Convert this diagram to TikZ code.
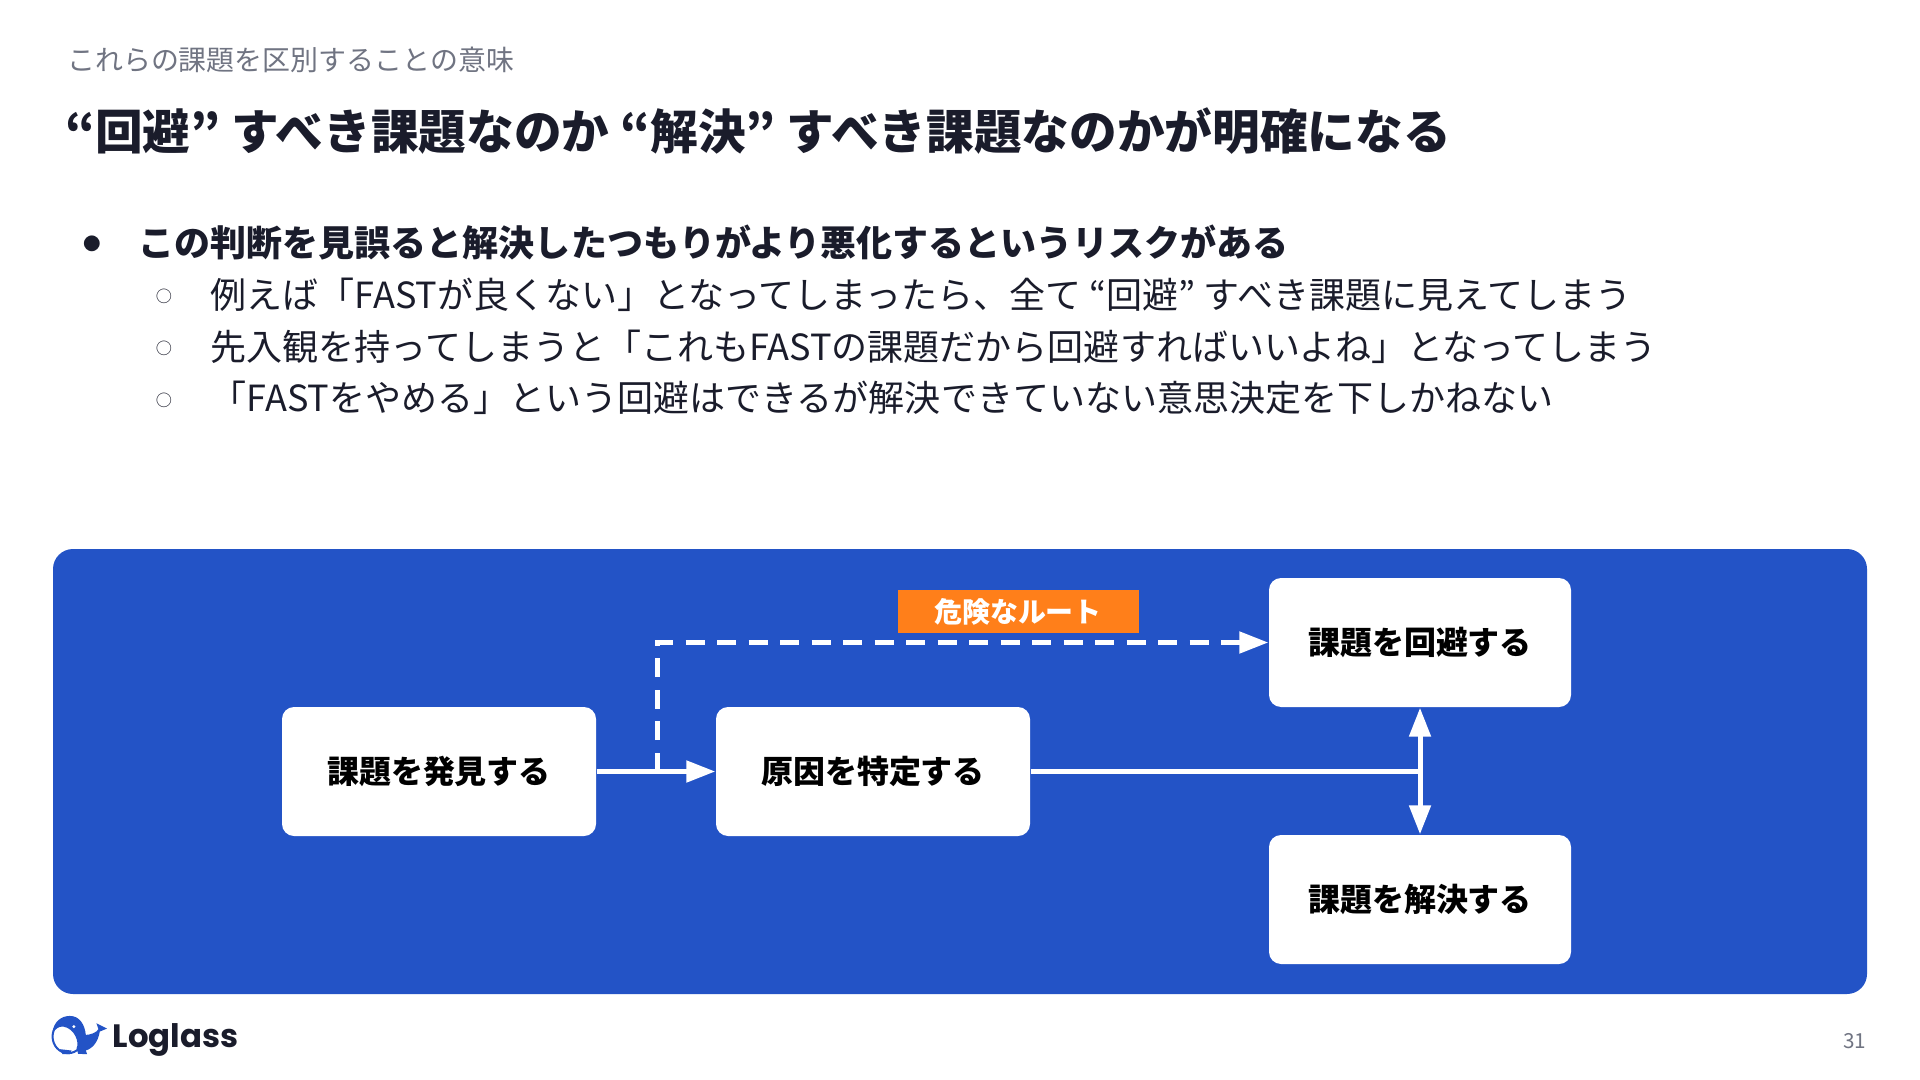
\documentclass[tikz,border=0pt]{standalone}
\usepackage{fontspec}
\setmainfont{Noto Sans CJK JP}
\newfontfamily\logofont{Poppins}
\usetikzlibrary{arrows.meta}
\definecolor{panelblue}{RGB}{35,83,198}
\definecolor{warnorange}{RGB}{255,127,26}
\definecolor{inkdark}{RGB}{26,28,43}
\definecolor{inkgray}{RGB}{112,116,130}
\tikzset{
  headtext/.style={anchor=west, inner sep=0pt, text=inkdark},
  listtext/.style={anchor=west, inner sep=0pt, text=inkdark, font=\fontsize{10.25pt}{12pt}\selectfont},
  listmark/.style={inner sep=0pt, text=inkdark, font=\fontsize{4.6pt}{6pt}\selectfont},
  stepbox/.style={fill=white, rounded corners=0.12cm, minimum width=3.14cm, minimum height=1.29cm, inner sep=0pt, text=black, font=\fontsize{9.1pt}{11pt}\selectfont\bfseries},
  endbox/.style={stepbox, minimum width=3.02cm},
  flowline/.style={draw=white, line width=0.05cm},
  flowtip/.style={-{Triangle[length=0.29cm,width=0.21cm]}},
}
\begin{document}
\begin{tikzpicture}
\useasboundingbox (0,0) rectangle (19.2,-10.8);
\fill[white] (0,0) rectangle (19.2,-10.8);
\node[headtext, text=inkgray, font=\fontsize{7.95pt}{10pt}\selectfont] (sub) at (0.665,-0.60) {これらの課題を区別することの意味};
\node[headtext, font=\fontsize{13.56pt}{16pt}\selectfont\bfseries] (title) at (0.645,-1.31) {“回避” すべき課題なのか “解決” すべき課題なのかが明確になる};
\node[listmark, font=\fontsize{5pt}{6pt}\selectfont] (m0) at (0.92,-2.44) {●};
\node[listtext, font=\fontsize{10.25pt}{12pt}\selectfont\bfseries] (l0) at (1.38,-2.43) {この判断を見誤ると解決したつもりがより悪化するというリスクがある};
\node[listmark] (m1) at (1.64,-2.96) {○};
\node[listtext] (l1) at (2.10,-2.95) {例えば「FASTが良くない」となってしまったら、全て “回避” すべき課題に見えてしまう};
\node[listmark] (m2) at (1.64,-3.48) {○};
\node[listtext] (l2) at (2.10,-3.47) {先入観を持ってしまうと「これもFASTの課題だから回避すればいいよね」となってしまう};
\node[listmark] (m3) at (1.64,-4.00) {○};
\node[listtext] (l3) at (2.10,-3.98) {「FASTをやめる」という回避はできるが解決できていない意思決定を下しかねない};
\fill[panelblue, rounded corners=0.2cm] (0.53,-5.49) rectangle (18.67,-9.94);
\node[stepbox] (discover) at (4.39,-7.715) {課題を発見する};
\node[stepbox] (cause) at (8.73,-7.715) {原因を特定する};
\node[endbox] (avoid) at (14.20,-6.425) {課題を回避する};
\node[endbox] (solve) at (14.20,-8.995) {課題を解決する};
\node[fill=warnorange, text=white, minimum width=2.41cm, minimum height=0.43cm, inner sep=0pt, font=\fontsize{7.95pt}{10pt}\selectfont\bfseries] (danger) at (10.18,-6.115) {危険なルート};
\coordinate (fork) at (6.57,-7.715);
\coordinate (join) at (14.20,-7.715);
\draw[flowline, flowtip] (discover) -- (cause);
\draw[flowline, flowtip, dash pattern=on 0.19cm off 0.125cm] (fork) |- (avoid);
\draw[flowline] (cause) -- (join);
\draw[flowline, {Triangle[length=0.29cm,width=0.21cm]}-{Triangle[length=0.29cm,width=0.21cm]}] (avoid) -- (solve);
% logo
\begin{scope}[shift={(0,-9.8)}, x=0.003333cm, y=-0.003333cm]
\draw[panelblue, line width=0.02cm, fill=white] (205,170) ellipse (47 and 50);
\fill[panelblue] (158,160) .. controls (160,125) and (185,108) .. (210,108) .. controls (240,108) and (255,135) .. (258,165)
  .. controls (272,165) and (290,158) .. (296,148) -- (290,130) -- (322,146) -- (300,155)
  .. controls (295,185) and (280,205) .. (258,212) -- (262,223) -- (235,222) -- (230,205)
  .. controls (240,190) and (225,145) .. (190,140) .. controls (175,138) and (165,150) .. (158,160) -- cycle;
\fill[white] (222,140) circle (5);
\fill[panelblue] (180,208) -- (215,212) -- (210,223) -- (188,223) -- cycle;
\end{scope}
\node[anchor=west, inner sep=0pt, text=inkdark, font=\logofont\bfseries\fontsize{9.2pt}{11pt}\selectfont] (brand) at (1.12,-10.40) {Loglass};
\node[anchor=east, inner sep=0pt, text=inkgray, font=\fontsize{5.9pt}{7pt}\selectfont] (page) at (18.67,-10.41) {31};
\end{tikzpicture}
\end{document}
